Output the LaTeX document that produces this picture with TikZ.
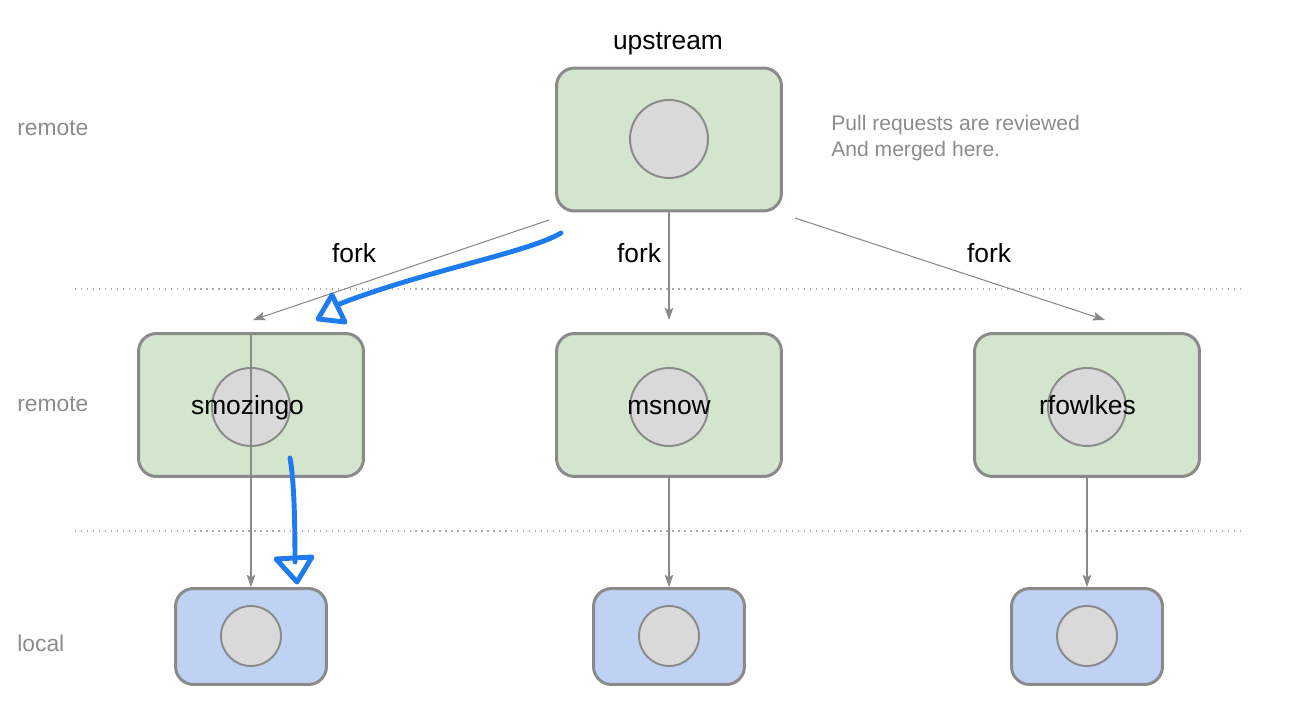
\documentclass[tikz,border=0pt]{standalone}
\usepackage{fontspec}
\setmainfont{Liberation Sans}
\usetikzlibrary{arrows.meta}
\definecolor{repogreen}{HTML}{D3E5CD}
\definecolor{localblue}{HTML}{BFD2F3}
\definecolor{edgegray}{HTML}{8A8A8A}
\definecolor{discgray}{HTML}{D9D9D9}
\definecolor{penblue}{HTML}{1E7BEF}
\definecolor{notegray}{HTML}{8C8C8C}
\tikzset{outside/.style={draw=edgegray!70, line width=0.8pt, dash pattern=on 0.8pt off 2.6pt}}

\begin{document}
\begin{tikzpicture}[x=0.02cm, y=-0.02cm]
	% Default look of the pieces
	\tikzset{
		repo/.style={draw=edgegray, line width=1.7pt, rounded corners=0.36cm, fill=repogreen, minimum width=4.5cm, minimum height=2.86cm},
		clone/.style={repo, fill=localblue, minimum width=3.02cm, minimum height=1.92cm},
		disc/.style={draw=edgegray, line width=1.1pt, circle, fill=discgray, minimum size=1.56cm, inner sep=0pt},
		smalldisc/.style={disc, minimum size=1.2cm},
		repotxt/.style={font=\fontsize{15}{18}\selectfont, inner sep=0pt, text height=11pt, text depth=3pt},
		tier/.style={font=\fontsize{13}{16}\selectfont, text=notegray, anchor=west, inner sep=0pt},
		fork/.style={draw=edgegray, line width=0.6pt, -{Stealth[length=7pt, width=5pt, inset=1.5pt]}},
		pen/.style={draw=penblue, line width=2.8pt, line cap=round, line join=round}
	}
	\useasboundingbox (0,0) rectangle (1289,722);

	% tiers
	\node[tier] (t1) at (17,128) {remote};
	\node[tier] (t2) at (17,404) {remote};
	\node[tier] (t3) at (17,643) {local};
	\coordinate (d1w) at (75,289);	\coordinate (d1e) at (1240,289);
	\coordinate (d2w) at (75,531);	\coordinate (d2e) at (1240,531);
	\draw[outside] (d1w) -- (d1e);
	\draw[outside] (d2w) -- (d2e);

	% boxes
	\node[repo] (up) at (669,139.5) {};		\node[disc] (upd) at (669,139) {};
	\node[repo] (smo) at (251,405) {};		\node[disc] (smod) at (251,407) {};
	\node[repo] (msn) at (669,405) {};		\node[disc] (msnd) at (669,407) {};
	\node[repo] (rfo) at (1087,405) {};		\node[disc] (rfod) at (1087,407) {};
	\node[clone] (smol) at (251,636.5) {};	\node[smalldisc] (smold) at (251,636) {};
	\node[clone] (msnl) at (669,636.5) {};	\node[smalldisc] (msnld) at (669,636) {};
	\node[clone] (rfol) at (1087,636.5) {};	\node[smalldisc] (rfold) at (1087,636) {};

	\node[repotxt] (uptxt) at (668,42) {upstream};
	\node[font=\fontsize{12}{14.7}\selectfont, text=notegray, align=left, anchor=west, inner sep=0pt] (note) at (831,138) {Pull requests are reviewed\\And merged here.};

	% forks
	\coordinate (fl) at (549,220);	\coordinate (fr) at (795,218);
	\coordinate (tl) at (253,320);	\coordinate (tm) at (669,320);	\coordinate (tr) at (1105,320);
	\draw[fork] (fl) -- (tl);
	\draw[fork] (up.south) -- (tm);
	\draw[fork] (fr) -- (tr);
	\node[repotxt] (f1) at (354,255) {fork};
	\node[repotxt] (f2) at (639,255) {fork};
	\node[repotxt] (f3) at (989,255) {fork};

	% clones
	\draw[fork] (smo.north) -- (smol.north);
	\draw[fork] (msn.south) -- (msnl.north);
	\draw[fork] (rfo.south) -- (rfol.north);

	\node[repotxt] (smotxt) at (247.5,407) {smozingo};
	\node[repotxt] (msntxt) at (669,407) {msnow};
	\node[repotxt] (rfotxt) at (1087.5,407) {rfowlkes};

	% pen marks
	\coordinate (p1) at (561,233);	\coordinate (p2) at (337,305);
	\draw[pen] (p1) .. controls (530,252) and (420,272) .. (p2);
	\draw[pen] (332,295) -- (318,319) -- (345,322) -- cycle;
	\coordinate (q1) at (290,458);	\coordinate (q2) at (295,562);
	\draw[pen] (q1) .. controls (294,480) and (295,520) .. (q2);
	\draw[pen] (276,559) -- (297,582) -- (312,557) -- cycle;
\end{tikzpicture}
\end{document}
